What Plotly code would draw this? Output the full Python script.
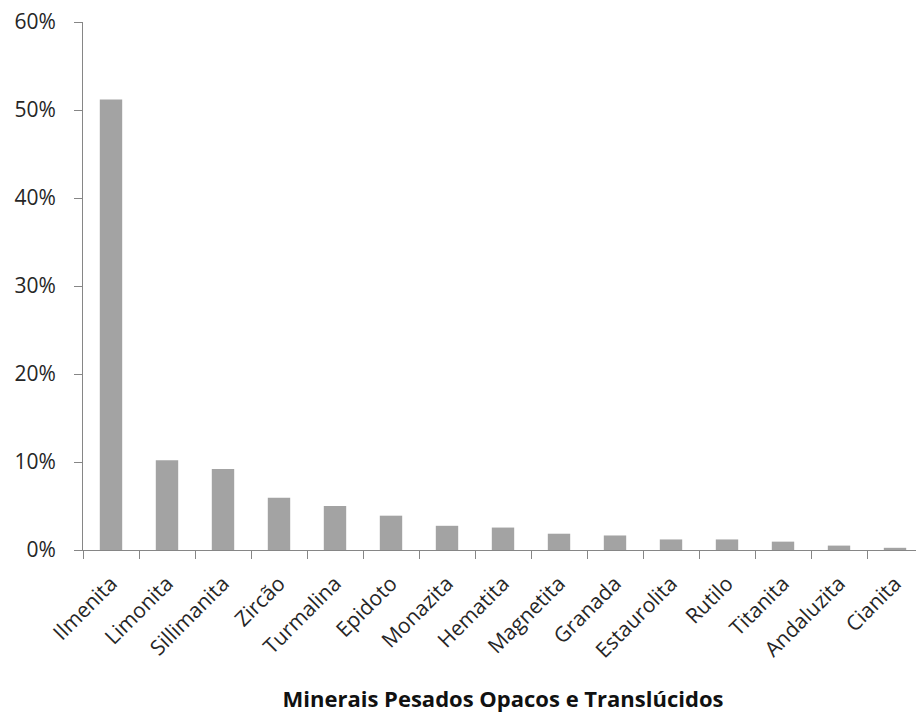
import plotly.graph_objects as go

minerals = ["Ilmenita", "Limonita", "Sillimanita", "Zircão", "Turmalina", "Epidoto",
            "Monazita", "Hematita", "Magnetita", "Granada", "Estaurolita", "Rutilo",
            "Titanita", "Andaluzita", "Cianita"]
percent = [51.2, 10.2, 9.2, 5.95, 5.0, 3.9, 2.75, 2.55, 1.85, 1.65, 1.2, 1.2, 0.95, 0.5, 0.25]

fig = go.Figure(go.Bar(x=minerals, y=[p / 100 for p in percent],
                       marker=dict(color="#a3a3a3", line=dict(width=0))))

font_family = "Open Sans, Noto Sans, sans-serif"
# page body has an 8px margin: compensate so the plot area lands where the reference has it
fig.update_layout(
    width=916, height=705,
    margin=dict(l=75, r=1, t=14, b=163, autoexpand=False),
    paper_bgcolor="white", plot_bgcolor="white",
    bargap=0.6,
    showlegend=False,
    font=dict(family=font_family, size=16, color="#222"),
)
fig.update_xaxes(
    automargin=False,
    showline=True, linecolor="#868686", linewidth=1,
    ticks="outside", tickson="boundaries", ticklen=8, tickcolor="#868686",
    tickangle=-45, tickfont=dict(size=21, color="#262626"),
    ticklabelstandoff=12, ticklabeloverflow="allow",
    title=dict(text="<b>Minerais Pesados Opacos e Translúcidos</b>",
               font=dict(size=22, color="#111"), standoff=30),
    showgrid=False,
)
fig.update_yaxes(
    automargin=False,
    range=[0, 0.6], dtick=0.1, tickformat=".0%",
    showline=True, linecolor="#868686", linewidth=1,
    ticks="outside", ticklen=8, tickcolor="#868686",
    tickfont=dict(size=21, color="#262626"),
    ticklabelstandoff=14, ticklabeloverflow="allow",
    showgrid=False, zeroline=False,
)

fig.write_html("out.html")
